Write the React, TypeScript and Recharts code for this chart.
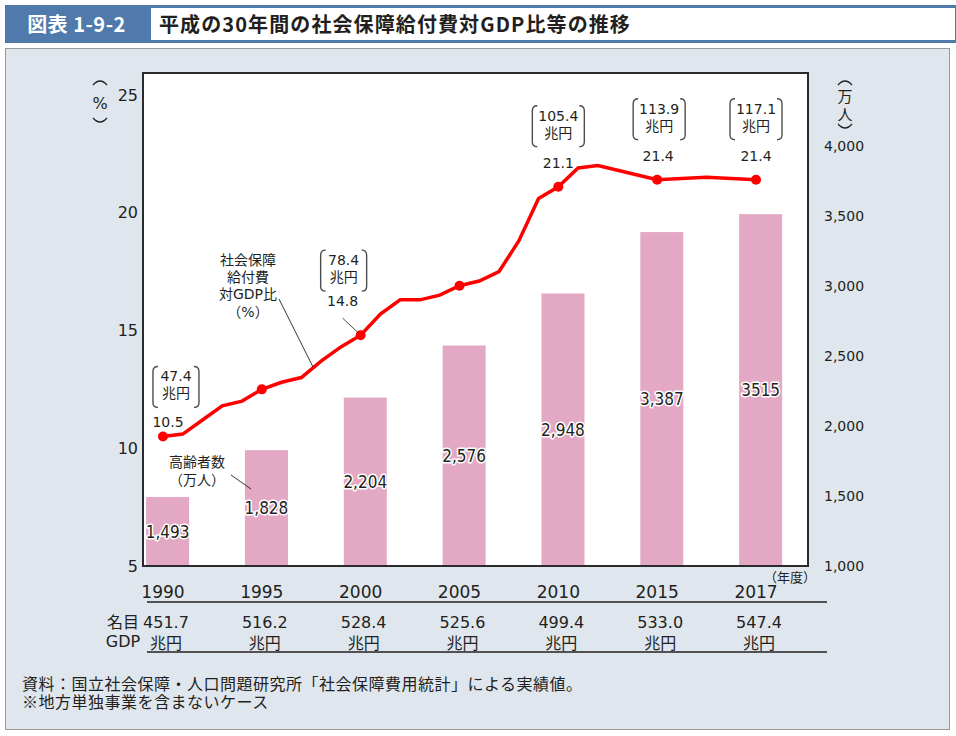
import React from "react";
import { ComposedChart, Bar, Line, XAxis, YAxis, LabelList } from "recharts";

// 社会保障給付費対GDP比（%）: fiscal years 1990-2017
const years = [
  1990, 1991, 1992, 1993, 1994, 1995, 1996, 1997, 1998, 1999, 2000, 2001, 2002, 2003,
  2004, 2005, 2006, 2007, 2008, 2009, 2010, 2011, 2012, 2013, 2014, 2015, 2016, 2017,
];
const gdpRatio = [
  10.5, 10.6, 11.2, 11.8, 12.0, 12.5, 12.8, 13.0, 13.7, 14.3, 14.8, 15.7, 16.3, 16.3,
  16.5, 16.9, 17.1, 17.5, 18.8, 20.6, 21.1, 21.9, 22.0, 21.8, 21.6, 21.4, 21.5, 21.4,
];

// 高齢者数（万人）
const barYears = [1990, 1995, 2000, 2005, 2010, 2015, 2017];
const elderly = [1493, 1828, 2204, 2576, 2948, 3387, 3515];
const elderlyLabels = ["1,493", "1,828", "2,204", "2,576", "2,948", "3,387", "3515"];
const nominalGdp = ["451.7", "516.2", "528.4", "525.6", "499.4", "533.0", "547.4"];

// labelled points on the line
const labeledYears = [1990, 2000, 2010, 2015, 2017];
const ratioLabels = ["10.5", "14.8", "21.1", "21.4", "21.4"];
const benefitLabels = ["47.4", "78.4", "105.4", "113.9", "117.1"];

const leftTicks = [5, 10, 15, 20, 25];
const rightTicks = [1000, 1500, 2000, 2500, 3000, 3500, 4000];

// the axis is squeezed after 2015: 2015 -> 2017 takes the same room as five years
const pos = (yr: number) => (yr <= 2015 ? yr - 1990 : 25 + (yr - 2015) * 2.5);

const data = years.map((yr, i) => {
  const b = barYears.indexOf(yr);
  return { pos: pos(yr), year: yr, ratio: gdpRatio[i], elderly: b >= 0 ? elderly[b] : undefined };
});

const FONT = "'DejaVu Sans', 'Noto Sans CJK JP', sans-serif";
const CJK = "'Noto Sans CJK JP', sans-serif";
const INK = "#231f20";
const RED = "#ff0000";
const PINK = "#e3a9c4";
const BAR_W = 43;

// small per-point nudges so labels sit like the original
const nudge: Record<number, { rdx: number; rdy: number; bdx: number; bdy: number; leader?: boolean }> = {
  1990: { rdx: 5, rdy: 10, bdx: 13, bdy: 11 },
  2000: { rdx: -18, rdy: -10, bdx: -17, bdy: -4, leader: true },
  2015: { rdx: 1, rdy: 0, bdx: 2, bdy: 0 },
};

const Bracket = ({ cx, top, bottom, half }: { cx: number; top: number; bottom: number; half: number }) => {
  const l = cx - half;
  const r = cx + half;
  const c = 5;
  return (
    <g fill="none" stroke="#4d4d4d" strokeWidth={1.4}>
      <path d={`M${l + c},${top} Q${l},${top} ${l},${top + c} L${l},${bottom - c} Q${l},${bottom} ${l + c},${bottom}`} />
      <path d={`M${r - c},${top} Q${r},${top} ${r},${top + c} L${r},${bottom - c} Q${r},${bottom} ${r - c},${bottom}`} />
    </g>
  );
};

// vertical-writing parentheses for the axis units
const Paren = ({ x, y, up }: { x: number; y: number; up: boolean }) => (
  <path
    d={up ? `M${x - 7},${y + 3} Q${x},${y - 5} ${x + 7},${y + 3}` : `M${x - 7},${y - 3} Q${x},${y + 5} ${x + 7},${y - 3}`}
    fill="none"
    stroke={INK}
    strokeWidth={1.3}
  />
);

const renderLineLabel = (props: any) => {
  const { x, y, index } = props;
  if (index == null || !data[index]) return null;
  const yr = data[index].year;
  const k = labeledYears.indexOf(yr);
  if (k < 0) return null;
  const n = nudge[yr] || { rdx: 0, rdy: 0, bdx: 0, bdy: 0 };
  const bx = x + n.bdx;
  const half = benefitLabels[k].length > 4 ? 26 : 23;
  return (
    <g fontFamily={FONT} fontSize={14} fill={INK}>
      <Bracket cx={bx} top={y - 81 + n.bdy} bottom={y - 40 + n.bdy} half={half} />
      <text x={bx} y={y - 71 + n.bdy} textAnchor="middle" dominantBaseline="central">
        {benefitLabels[k]}
      </text>
      <text x={bx} y={y - 54 + n.bdy} textAnchor="middle" dominantBaseline="central">
        兆円
      </text>
      <text x={x + n.rdx} y={y - 24 + n.rdy} textAnchor="middle" dominantBaseline="central">
        {ratioLabels[k]}
      </text>
      {n.leader && (
        <line x1={x + n.rdx} y1={y - 17} x2={x - 2} y2={y - 2} stroke={INK} strokeWidth={0.8} />
      )}
    </g>
  );
};

const renderDot = (props: any) => {
  const { cx, cy, payload, index } = props;
  if (!barYears.includes(payload.year)) return <g key={`d${index}`} />;
  return <circle key={`d${index}`} cx={cx} cy={cy} r={5} fill={RED} />;
};

// the yearly line makes the numeric band narrow, so widen each bar round its centre
const renderBar = (props: any) => {
  const { x, y, width, height } = props;
  if (!height || height <= 0) return <g />;
  return <rect x={x + width / 2 - BAR_W / 2} y={y} width={BAR_W} height={height} fill={PINK} />;
};

const renderBarLabel = (props: any) => {
  const { x, y, width, height, value } = props;
  const k = elderly.indexOf(value);
  if (k < 0) return null;
  return (
    <text
      x={x + width / 2}
      y={y + height / 2}
      textAnchor="middle"
      dominantBaseline="central"
      fontFamily="'DejaVu Sans Condensed', 'DejaVu Sans', sans-serif"
      fontSize={17}
      fill={INK}
      stroke="#fff"
      strokeWidth={3}
      paintOrder="stroke"
      strokeLinejoin="round"
    >
      {elderlyLabels[k]}
    </text>
  );
};

const renderXTick = (props: any) => {
  const { x, y, payload } = props;
  const k = barYears.findIndex((yr) => pos(yr) === payload.value);
  if (k < 0) return <g />;
  return (
    <g fontFamily={FONT} fill={INK} textAnchor="middle">
      <text x={x} y={y + 26} fontSize={17} dominantBaseline="central">
        {barYears[k]}
      </text>
      <text x={x + 3} y={y + 56} fontSize={16} dominantBaseline="central">
        {nominalGdp[k]}
      </text>
      <text x={x + 3} y={y + 77} fontSize={16} dominantBaseline="central">
        兆円
      </text>
    </g>
  );
};

export default function App() {
  return (
    <div style={{ position: "relative", width: 956, height: 736, background: "#fff", fontFamily: FONT }}>
      <style>{"body{margin:0}"}</style>

      {/* header */}
      <div
        style={{
          position: "absolute", left: 5, top: 5, width: 143, height: 38, background: "#4f7aab",
          color: "#fff", fontWeight: 700, fontSize: 20, lineHeight: "38px", textAlign: "center",
          letterSpacing: 0.5, fontFamily: CJK,
        }}
      >
        図表 1-9-2
      </div>
      <div
        style={{
          position: "absolute", left: 148, top: 5, width: 796, height: 32, background: "#fff",
          border: "3px solid #4f7aab", color: INK, fontWeight: 700, fontSize: 20, lineHeight: "32px",
          paddingLeft: 8, letterSpacing: 1.1, fontFamily: CJK,
        }}
      >
        平成の30年間の社会保障給付費対GDP比等の推移
      </div>

      {/* panel */}
      <div
        style={{
          position: "absolute", left: 5, top: 48, width: 943, height: 680, background: "#dfe6ee",
          border: "1.5px solid #9a9a9a",
        }}
      />
      <div style={{ position: "absolute", left: 143, top: 73, width: 665, height: 493, background: "#fff" }} />

      <div style={{ position: "absolute", left: 0, top: 0 }}>
        <ComposedChart width={956} height={736} data={data} margin={{ top: 73, right: 88, bottom: 90, left: 103 }}>
          <XAxis
            xAxisId="line"
            type="number"
            dataKey="pos"
            domain={[-1.01, 32.63]}
            allowDataOverflow
            ticks={barYears.map(pos)}
            interval={0}
            tick={renderXTick}
            axisLine={false}
            tickLine={false}
            tickSize={0}
            tickMargin={0}
            height={80}
          />
          <XAxis xAxisId="bar" type="number" dataKey="pos" domain={[-1.24, 32.4]} allowDataOverflow hide height={0} />
          <YAxis
            yAxisId="left"
            domain={[5, 25.93]}
            allowDataOverflow
            ticks={leftTicks}
            interval={0}
            width={40}
            axisLine={false}
            tickLine={false}
            tickSize={0}
            tickMargin={5}
            tick={{ fill: INK, fontSize: 16, fontFamily: FONT }}
          />
          <YAxis
            yAxisId="right"
            orientation="right"
            domain={[1000, 4524]}
            allowDataOverflow
            ticks={rightTicks}
            interval={0}
            width={60}
            axisLine={false}
            tickLine={false}
            tickSize={0}
            tickMargin={16}
            tickFormatter={(v: number) => v.toLocaleString("en-US")}
            tick={{ fill: INK, fontSize: 14, fontFamily: FONT }}
          />
          <Bar xAxisId="bar" yAxisId="right" dataKey="elderly" fill={PINK} shape={renderBar} isAnimationActive={false}>
            <LabelList dataKey="elderly" content={renderBarLabel} />
          </Bar>
          <Line
            xAxisId="line"
            yAxisId="left"
            type="linear"
            dataKey="ratio"
            stroke={RED}
            strokeWidth={3.5}
            dot={renderDot}
            activeDot={false}
            isAnimationActive={false}
          >
            <LabelList dataKey="ratio" content={renderLineLabel} />
          </Line>
        </ComposedChart>
      </div>

      {/* annotations, frame and table rules */}
      <svg width={956} height={736} style={{ position: "absolute", left: 0, top: 0, pointerEvents: "none" }}>
        <rect x={143} y={73} width={665} height={493} fill="none" stroke="#2b2b2b" strokeWidth={2} />

        <Paren x={100} y={82} up />
        <text x={100} y={103} fontFamily={FONT} fontSize={16} fill={INK} textAnchor="middle" dominantBaseline="central">%</text>
        <Paren x={100} y={121} up={false} />

        <Paren x={845} y={82} up />
        <g fontFamily={CJK} fill={INK} textAnchor="middle" fontSize={15}>
          <text x={845} y={95} dominantBaseline="central">万</text>
          <text x={845} y={113} dominantBaseline="central">人</text>
        </g>
        <Paren x={845} y={127} up={false} />

        <g fontFamily={FONT} fill={INK} fontSize={14} textAnchor="middle">
          <text x={248} y={260} dominantBaseline="central">社会保障</text>
          <text x={248} y={277} dominantBaseline="central">給付費</text>
          <text x={248} y={294} dominantBaseline="central">対GDP比</text>
          <text x={248} y={312} dominantBaseline="central">（%）</text>
          <text x={197} y={462} dominantBaseline="central">高齢者数</text>
          <text x={197} y={480} dominantBaseline="central">（万人）</text>
          <text x={790} y={577} dominantBaseline="central" fontSize={13}>（年度）</text>
        </g>
        <line x1={279} y1={299} x2={313} y2={367} stroke={INK} strokeWidth={0.9} />
        <line x1={231} y1={475} x2={251} y2={489} stroke={INK} strokeWidth={0.9} />

        <line x1={147} y1={602} x2={827} y2={602} stroke={INK} strokeWidth={1.5} />
        <line x1={147} y1={652} x2={827} y2={652} stroke={INK} strokeWidth={1.5} />
        <g fontFamily={FONT} fill={INK} fontSize={16} textAnchor="middle">
          <text x={123} y={622} dominantBaseline="central">名目</text>
          <text x={123} y={641} dominantBaseline="central">GDP</text>
        </g>

        <g fontFamily={CJK} fill={INK} fontSize={16} letterSpacing={0.5}>
          <text x={22} y={683} dominantBaseline="central">
            資料：国立社会保障・人口問題研究所「社会保障費用統計」による実績値。
          </text>
          <text x={22} y={701} dominantBaseline="central">※地方単独事業を含まないケース</text>
        </g>
      </svg>
    </div>
  );
}
